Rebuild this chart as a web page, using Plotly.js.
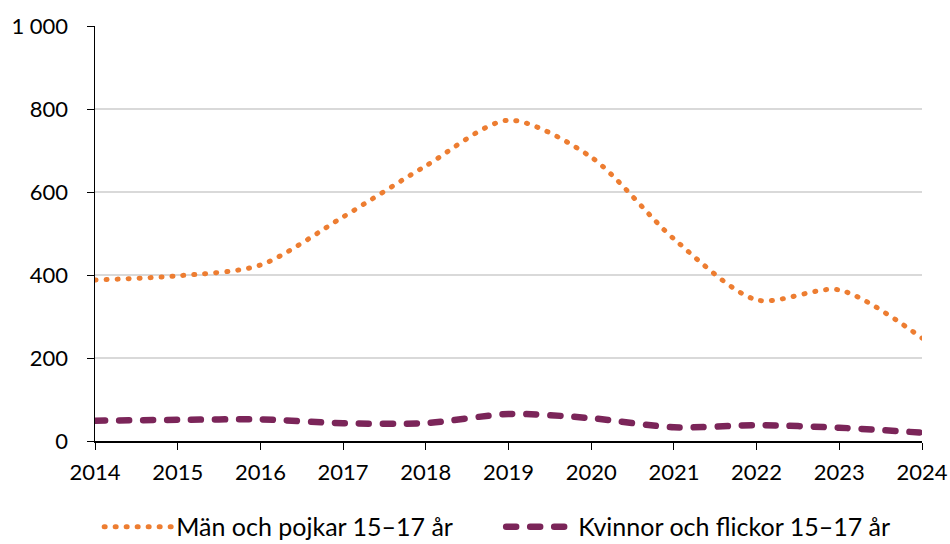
<!DOCTYPE html>
<html><head><meta charset="utf-8">
<script src="https://cdn.plot.ly/plotly-3.0.1.min.js"></script>
<style>
body{margin:0;background:#fff;}
#chart{width:950px;height:544px;}
.js-line{stroke-linecap:round;}
</style></head>
<body><div id="chart"></div>
<script>
const years = [2014,2015,2016,2017,2018,2019,2020,2021,2022,2023,2024];
const menBoys = [388,398,424,540,663,773,684,487,340,364,248];
const womenGirls = [49,51,52,43,43,65,55,33,38,32,20];
const seriesNames = ["Män och pojkar 15–17 år","Kvinnor och flickor 15–17 år"];
const yTickVals = [0,200,400,600,800,1000];
const yTickText = ["0","200","400","600","800","1 000"];

const traces = [
 {x:years,y:menBoys,name:seriesNames[0],type:'scatter',mode:'lines',
  line:{color:'#ED7D31',width:5,dash:'1px,10px',shape:'spline',smoothing:0.8}},
 {x:years,y:womenGirls,name:seriesNames[1],type:'scatter',mode:'lines',
  line:{color:'#7B2559',width:6.5,dash:'10px,14px',shape:'spline',smoothing:0.8}}
];
const layout = {
 width:950,height:544,
 margin:{l:95,r:28,t:26,b:103,autoexpand:false},
 paper_bgcolor:'#fff',plot_bgcolor:'#fff',
 font:{family:'Lato, "Liberation Sans", sans-serif',size:22,color:'#000'},
 showlegend:true,
 legend:{orientation:'h',x:-0.001,xanchor:'left',y:-0.207,yanchor:'middle',indentation:5,
  font:{size:25},itemwidth:67,entrywidth:315,tracegroupgap:0,traceorder:'normal'},
 xaxis:{range:[2014,2024],tickvals:years,ticktext:years.map(String),
  showline:true,linecolor:'#000',linewidth:1.5,ticks:'outside',ticklen:7,tickcolor:'#000',
  ticklabelstandoff:4,
  showgrid:false,zeroline:false,fixedrange:true},
 yaxis:{range:[0,1000],tickvals:yTickVals,ticktext:yTickText,
  showline:true,linecolor:'#000',linewidth:1.5,ticks:'outside',ticklen:7,tickcolor:'#000',
  ticklabelstandoff:14,
  showgrid:true,gridcolor:'#d9d9d9',gridwidth:1.5,zeroline:false,fixedrange:true}
};
Plotly.newPlot('chart',traces,layout,{displayModeBar:false,staticPlot:true});
</script></body></html>
